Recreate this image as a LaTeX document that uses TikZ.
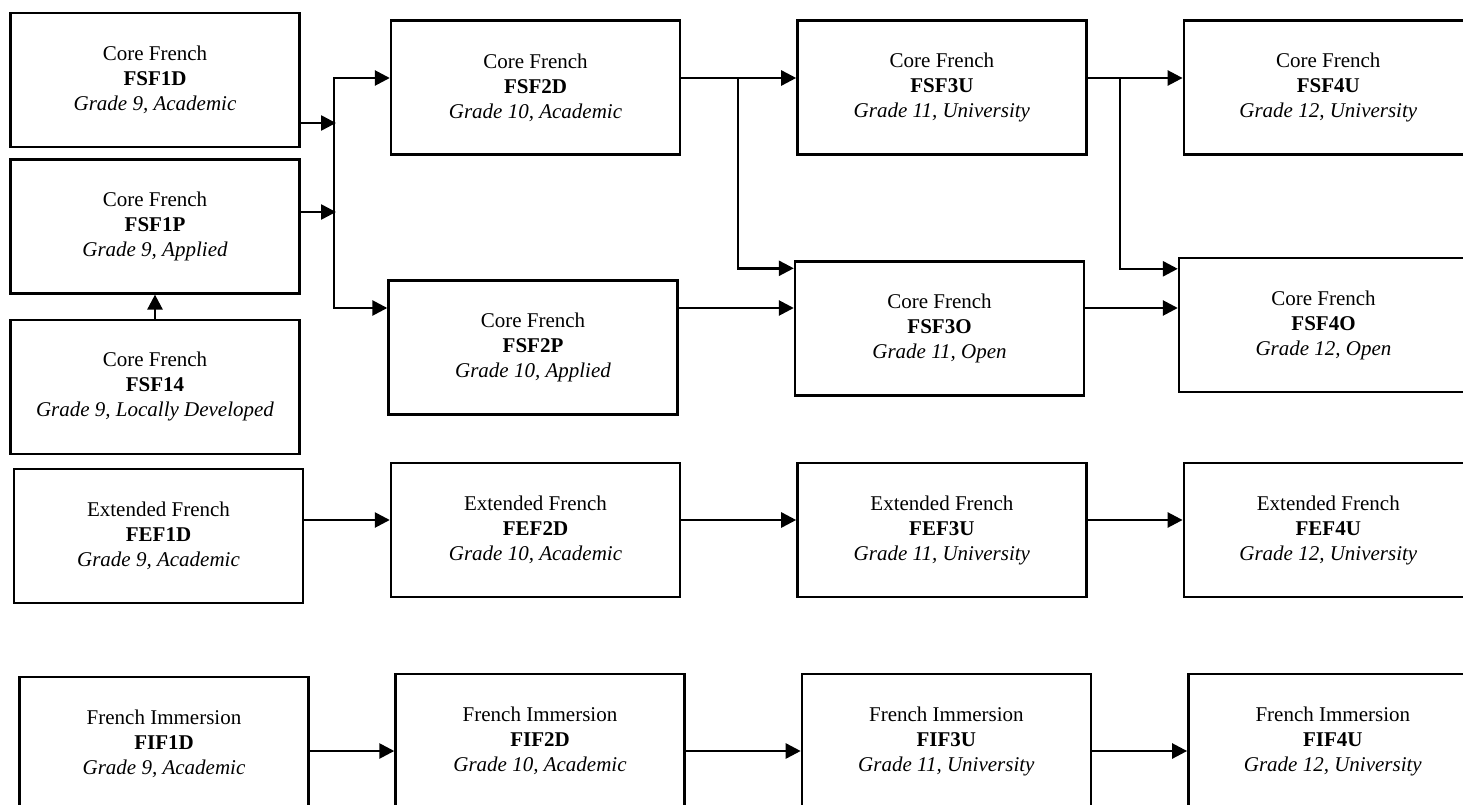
\documentclass[tikz,border=0pt]{standalone}
\usepackage{fontspec}
\setmainfont{Liberation Serif}
\usetikzlibrary{arrows.meta,positioning}

\tikzset{
  course/.style={draw, line width=2.4pt, minimum width=289pt, minimum height=134pt,
    align=center, inner sep=0pt, font=\fontsize{21}{25}\selectfont},
  arr/.style={line width=2.6pt, -{Triangle[length=15pt,width=15pt]}}
}
\newcommand{\crs}[3]{#1\\\textbf{#2}\\\textit{#3}}

\begin{document}
\begin{tikzpicture}[x=1pt, y=-1pt]
  \useasboundingbox (0,0) rectangle (1463,805);
  \clip (0,0) rectangle (1463,805);

  % core french
  \node[course] (FSF1D) at (155,80) {\crs{Core French}{FSF1D}{Grade 9, Academic}};
  \node[course, below=10pt of FSF1D] (FSF1P) {\crs{Core French}{FSF1P}{Grade 9, Applied}};
  \node[course, below=24pt of FSF1P] (FSF14) {\crs{Core French}{FSF14}{Grade 9, Locally Developed}};
  \node[course] (FSF2D) at (535.5,87.5) {\crs{Core French}{FSF2D}{Grade 10, Academic}};
  \node[course] (FSF2P) at (533,347.5) {\crs{Core French}{FSF2P}{Grade 10, Applied}};
  \node[course, right=115pt of FSF2D] (FSF3U) {\crs{Core French}{FSF3U}{Grade 11, University}};
  \node[course, right=95pt of FSF3U] (FSF4U) {\crs{Core French}{FSF4U}{Grade 12, University}};
  \node[course] (FSF3O) at (939.5,328.5) {\crs{Core French}{FSF3O}{Grade 11, Open}};
  \node[course] (FSF4O) at (1323.5,325) {\crs{Core French}{FSF4O}{Grade 12, Open}};

  % extended french
  \node[course] (FEF1D) at (158.5,536) {\crs{Extended French}{FEF1D}{Grade 9, Academic}};
  \node[course] (FEF2D) at (535.5,530) {\crs{Extended French}{FEF2D}{Grade 10, Academic}};
  \node[course, right=115pt of FEF2D] (FEF3U) {\crs{Extended French}{FEF3U}{Grade 11, University}};
  \node[course, right=95pt of FEF3U] (FEF4U) {\crs{Extended French}{FEF4U}{Grade 12, University}};

  % french immersion
  \node[course] (FIF1D) at (164,744) {\crs{French Immersion}{FIF1D}{Grade 9, Academic}};
  \node[course] (FIF2D) at (540,741) {\crs{French Immersion}{FIF2D}{Grade 10, Academic}};
  \node[course, right=115pt of FIF2D] (FIF3U) {\crs{French Immersion}{FIF3U}{Grade 11, University}};
  \node[course, right=95pt of FIF3U] (FIF4U) {\crs{French Immersion}{FIF4U}{Grade 12, University}};

  \coordinate (inA) at (336,123);
  \coordinate (inB) at (336,212);
  \coordinate (busT) at (334,78);
  \coordinate (busB) at (334,308);
  \coordinate (brA) at (738,78);
  \coordinate (brB) at (1120,78);
  \coordinate (rowE) at (0,520);
  \coordinate (rowI) at (0,751);

  \draw[arr] (FSF1D.east |- inA) -- (inA);
  \draw[arr] (FSF1P.east |- inB) -- (inB);
  \draw[arr] (FSF14) -- (FSF1P);
  \draw[arr] (busB) |- (FSF2D.west |- busT);
  \draw[arr] (busT) |- (FSF2P.west |- busB);

  \draw[arr] (FSF2D.east |- brA) -- (FSF3U.west |- brA);
  \draw[arr] (brA) |- ([yshift=-8pt]FSF3O.north west);
  \draw[arr] (FSF2P.east |- busB) -- (FSF3O.west |- busB);
  \draw[arr] (FSF3U.east |- brB) -- (FSF4U.west |- brB);
  \draw[arr] (brB) |- ([yshift=-12pt]FSF4O.north west);
  \draw[arr] (FSF3O.east |- busB) -- (FSF4O.west |- busB);

  \foreach \a/\b in {FEF1D/FEF2D, FEF2D/FEF3U, FEF3U/FEF4U}
    \draw[arr] (\a.east |- rowE) -- (\b.west |- rowE);
  \foreach \a/\b in {FIF1D/FIF2D, FIF2D/FIF3U, FIF3U/FIF4U}
    \draw[arr] (\a.east |- rowI) -- (\b.west |- rowI);
\end{tikzpicture}
\end{document}
